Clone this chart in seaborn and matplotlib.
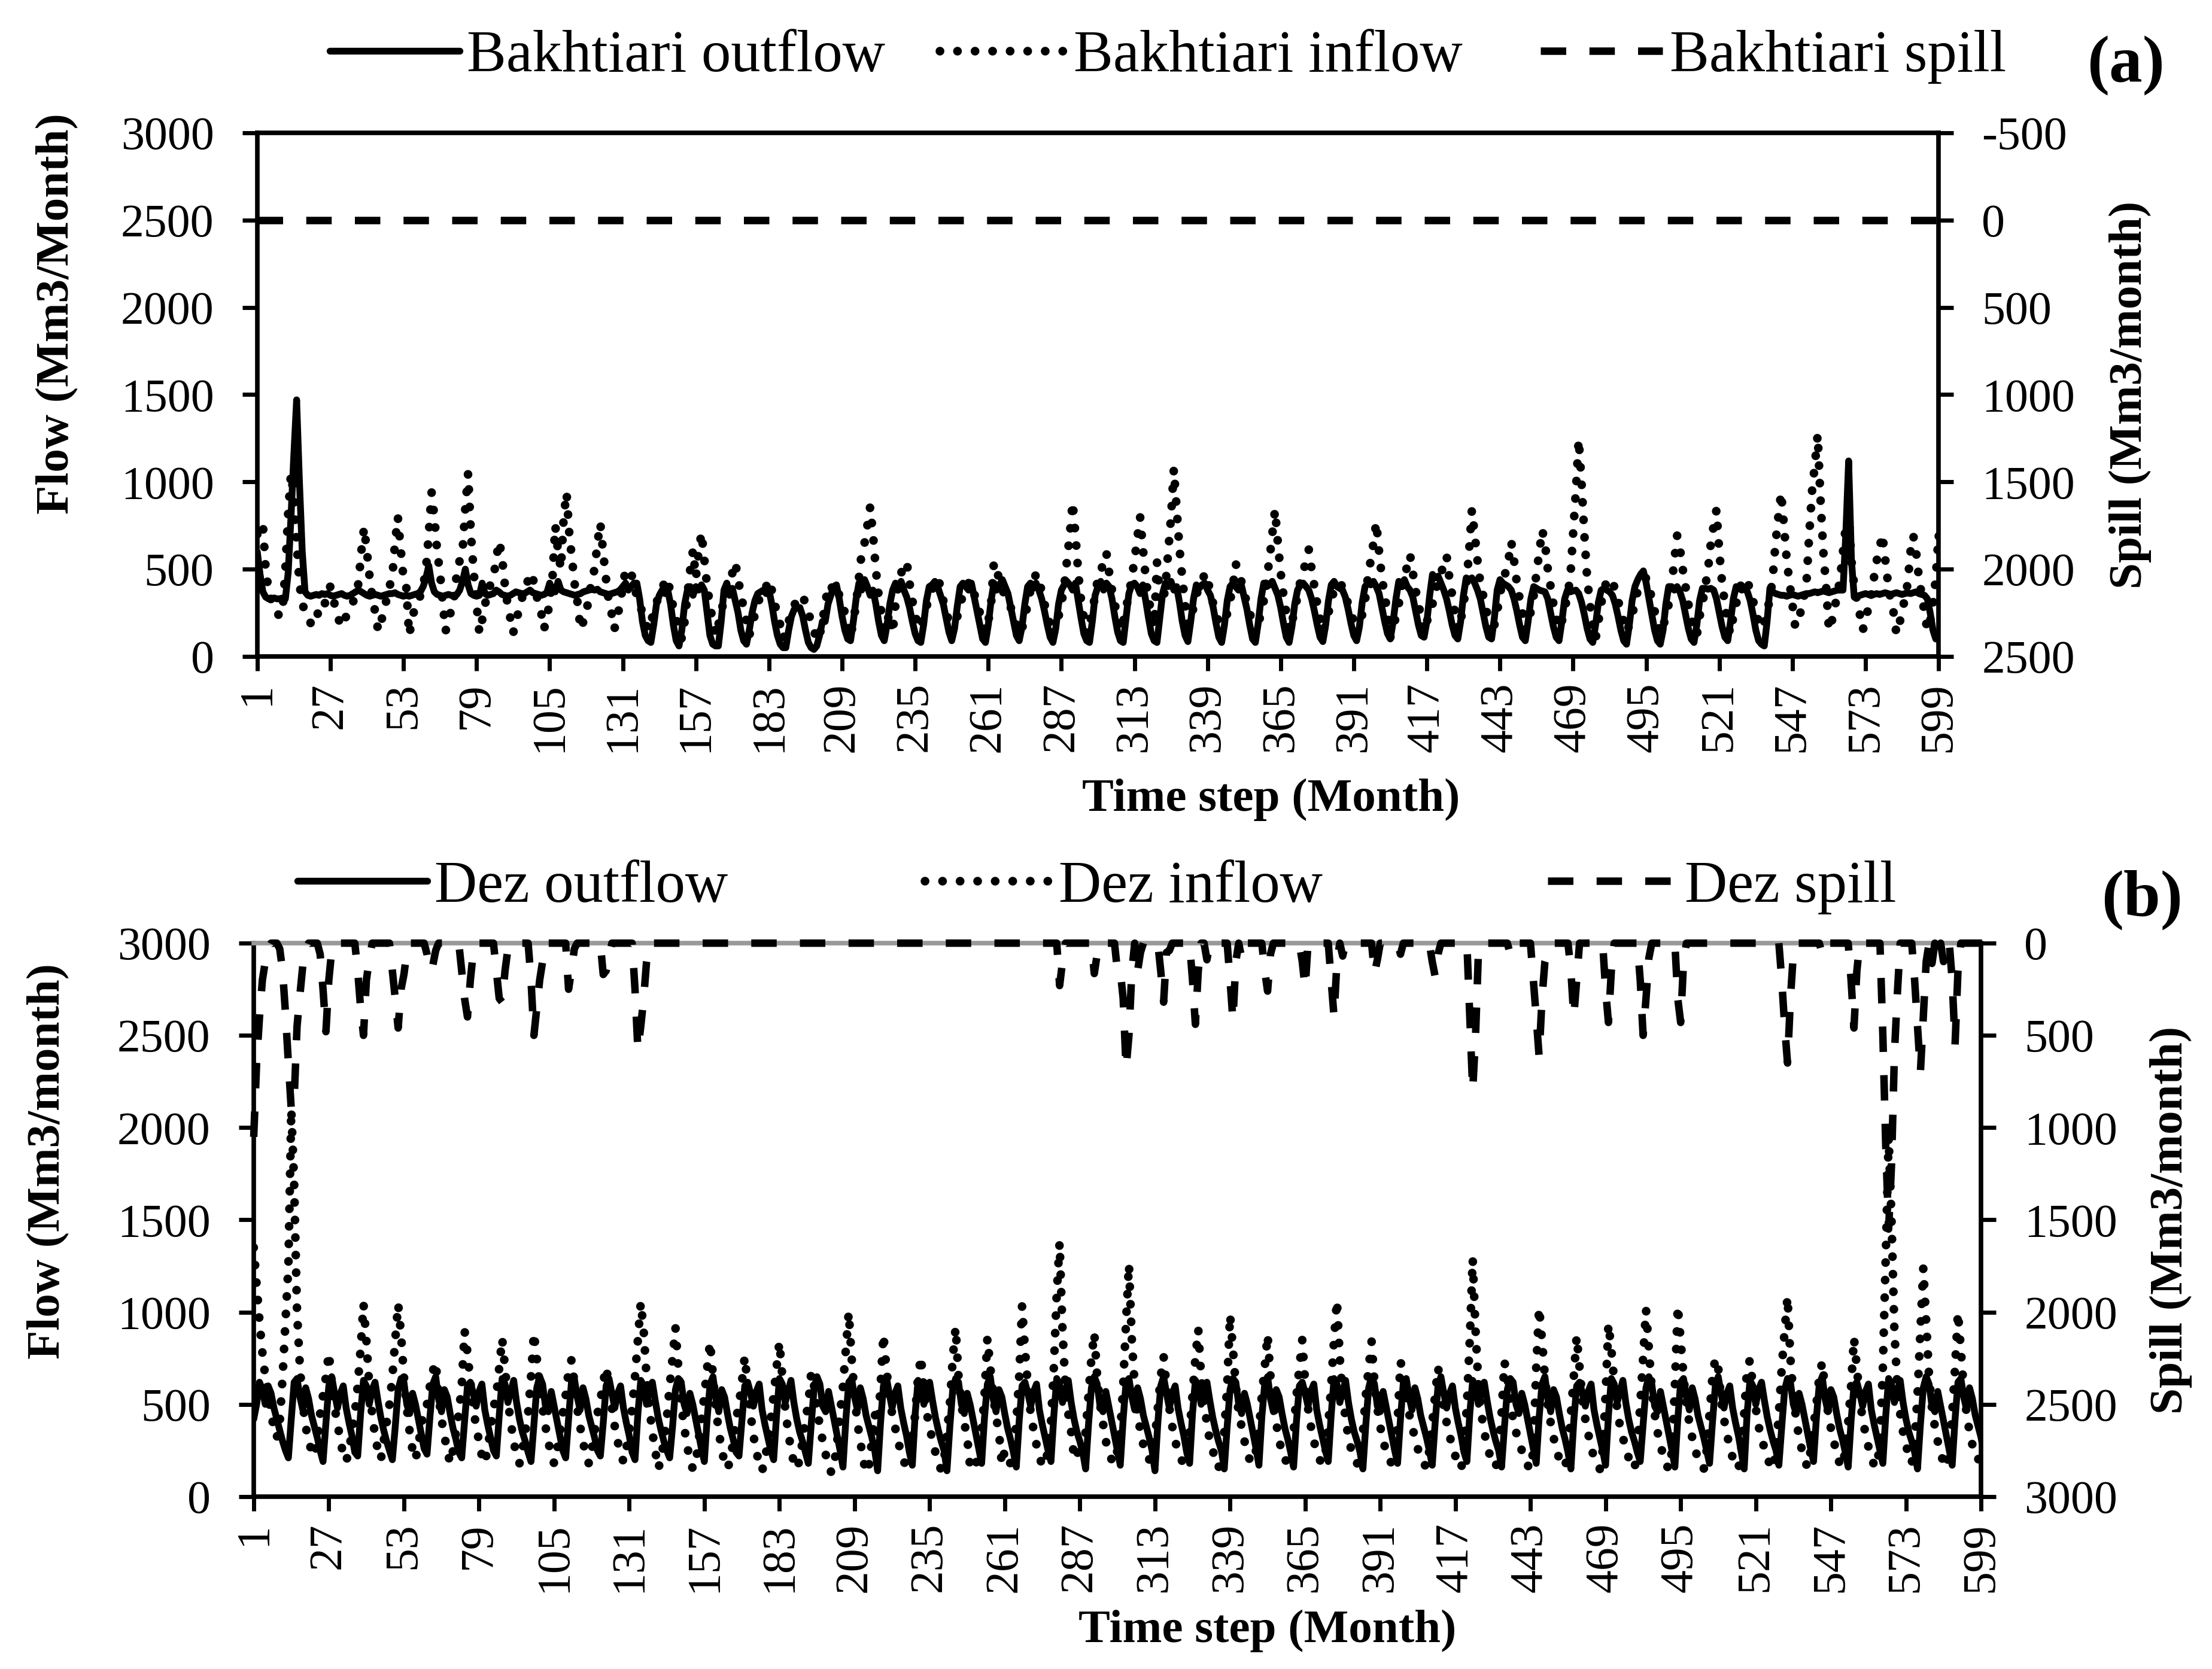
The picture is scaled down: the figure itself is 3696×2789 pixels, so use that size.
import matplotlib
matplotlib.use("Agg")
import numpy as np
import pandas as pd
import matplotlib.pyplot as plt
import seaborn as sns

sns.set_style("ticks")
plt.rcParams["font.family"] = ["Liberation Serif", "DejaVu Serif"]
plt.rcParams["axes.unicode_minus"] = False
for k in ["text.color", "axes.labelcolor", "xtick.color", "ytick.color", "axes.edgecolor"]:
    plt.rcParams[k] = "black"

# ---------------- data (Mm3/month), one row per 12 months ----------------
months = list(range(1, 601))
x_tick_values = list(range(1, 600, 26))
flow_ticks = [0, 500, 1000, 1500, 2000, 2500, 3000]
spill_ticks_a = [-500, 0, 500, 1000, 1500, 2000, 2500]
spill_ticks_b = [0, 500, 1000, 1500, 2000, 2500, 3000]

bakhtiari_outflow = [
    600, 470, 370, 340, 330, 330, 335, 330, 330, 335, 330, 480,
    800, 1150, 1470, 1000, 600, 370, 350, 345, 350, 355, 350, 360,
    355, 360, 350, 345, 350, 355, 360, 350, 345, 350, 360, 370,
    380, 370, 360, 350, 345, 350, 355, 350, 345, 350, 355, 360,
    360, 365, 355, 350, 345, 350, 345, 350, 355, 360, 370, 400,
    450, 520, 420, 370, 355, 350, 345, 350, 355, 350, 345, 355,
    380, 430, 500, 410, 360, 350, 345, 350, 420, 360, 350, 355,
    360, 380, 370, 355, 350, 345, 350, 360, 370, 365, 360, 360,
    370, 380, 365, 360, 355, 350, 355, 365, 420, 380, 370, 430,
    380, 370, 365, 360, 355, 350, 355, 360, 370, 375, 380, 385,
    380, 385, 370, 365, 360, 355, 360, 365, 370, 380, 400, 420,
    380, 400, 420, 420, 330, 200, 120, 90, 80, 180, 300, 350,
    380, 360, 380, 300, 180, 90, 60, 150, 300, 380, 400, 350,
    400, 380, 410, 380, 250, 120, 70, 60, 60, 200, 380, 420,
    350, 390, 320, 250, 150, 90, 70, 150, 250, 320, 360, 370,
    380, 360, 380, 300, 200, 120, 70, 50, 50, 150, 230, 270,
    280, 280, 230, 150, 80, 50, 40, 60, 120, 200, 200, 300,
    350, 400, 410, 330, 230, 150, 100, 90, 200, 330, 420, 380,
    440, 400, 350, 380, 300, 200, 120, 90, 180, 300, 380, 420,
    400, 430, 380, 340, 280, 200, 130, 90, 80, 180, 320, 400,
    410, 430, 400, 350, 300, 220, 140, 90, 160, 290, 400, 420,
    400, 380, 420, 340, 260, 180, 100, 80, 180, 320, 420, 380,
    410, 440, 400, 360, 280, 200, 120, 90, 170, 300, 400, 420,
    390, 420, 380, 330, 260, 180, 110, 80, 160, 300, 380, 410,
    430, 410, 380, 420, 320, 220, 130, 90, 80, 200, 350, 400,
    430, 380, 420, 400, 330, 230, 140, 90, 80, 220, 360, 410,
    420, 400, 360, 410, 320, 220, 130, 90, 80, 220, 360, 420,
    400, 430, 380, 400, 310, 200, 120, 85, 200, 330, 410, 390,
    410, 420, 380, 350, 280, 190, 110, 80, 180, 320, 400, 420,
    400, 380, 410, 340, 270, 180, 100, 80, 190, 330, 420, 400,
    410, 430, 390, 350, 280, 190, 110, 80, 170, 300, 380, 410,
    420, 400, 380, 330, 260, 180, 110, 85, 180, 320, 410, 430,
    400, 390, 380, 340, 270, 190, 120, 90, 170, 310, 400, 420,
    410, 430, 400, 360, 280, 200, 130, 100, 200, 330, 430, 420,
    440, 400, 380, 340, 260, 180, 120, 110, 200, 350, 470, 450,
    460, 420, 380, 330, 260, 180, 120, 100, 200, 350, 450, 440,
    450, 420, 380, 330, 250, 170, 110, 100, 220, 380, 440, 420,
    410, 400, 380, 330, 260, 180, 110, 90, 200, 330, 400, 390,
    380, 375, 370, 330, 250, 170, 110, 90, 200, 330, 380, 370,
    375, 380, 360, 310, 240, 160, 100, 80, 180, 310, 380, 390,
    380, 370, 350, 300, 230, 150, 90, 70, 180, 320, 400, 440,
    470, 490, 420, 330, 240, 150, 90, 70, 150, 300, 400, 400,
    380, 400, 370, 320, 240, 160, 100, 80, 180, 320, 390, 390,
    385, 390, 380, 330, 250, 170, 110, 90, 200, 330, 400, 390,
    380, 390, 370, 320, 240, 150, 90, 70, 60, 200, 390, 370,
    360, 355, 350, 350, 345, 350, 355, 350, 345, 350, 355, 360,
    360, 365, 370, 365, 370, 375, 370, 365, 370, 375, 380, 380,
    380, 700, 1120, 550, 340, 345, 350, 355, 360, 355, 350, 355,
    360, 355, 360, 365, 360, 355, 360, 365, 360, 355, 360, 365,
    360, 365, 370, 360, 355, 350, 330, 250, 150, 100, 110, 120,
]

bakhtiari_inflow = [
    700, 740, 760, 500, 380, 320, 290, 250, 230, 260, 500, 820,
    1050, 920, 650, 420, 300, 260, 230, 190, 200, 260, 230, 280,
    300, 380, 400, 330, 270, 210, 170, 200, 250, 280, 310, 350,
    420, 600, 740, 600, 450, 330, 250, 145, 200, 250, 330, 400,
    450, 650, 800, 620, 450, 400, 122, 200, 280, 300, 350, 400,
    500, 700, 940, 800, 600, 480, 300, 145, 220, 260, 330, 480,
    550, 600, 850, 1050, 700, 480, 300, 133, 210, 300, 350, 420,
    450, 560, 660, 580, 420, 300, 220, 133, 200, 260, 320, 400,
    420, 480, 450, 380, 300, 250, 155, 230, 300, 450, 750, 600,
    500, 800, 940, 700, 550, 400, 300, 155, 200, 260, 330, 450,
    500, 650, 765, 600, 450, 320, 250, 155, 220, 300, 400, 500,
    500, 480, 400, 350, 300, 250, 200, 150, 200, 250, 300, 380,
    400, 420, 450, 350, 280, 220, 150, 100, 200, 350, 500, 610,
    450, 600, 710, 560, 400, 300, 200, 120, 180, 250, 330, 400,
    420, 480, 540, 450, 350, 280, 200, 120, 180, 240, 300, 350,
    350, 400, 440, 380, 300, 250, 180, 100, 150, 200, 250, 300,
    300, 330, 350, 300, 250, 200, 150, 90, 120, 200, 300, 400,
    380, 420, 400, 350, 300, 250, 180, 110, 200, 300, 450, 600,
    650, 750, 858, 700, 500, 350, 250, 145, 200, 250, 133, 300,
    400, 480, 500, 543, 420, 320, 250, 160, 180, 220, 280, 350,
    380, 420, 450, 400, 320, 260, 200, 130, 170, 230, 300, 350,
    380, 420, 430, 360, 300, 250, 200, 140, 200, 300, 540, 500,
    430, 380, 350, 320, 280, 230, 180, 130, 160, 220, 300, 380,
    420, 475, 420, 380, 300, 240, 180, 120, 170, 230, 300, 400,
    550, 700, 885, 700, 480, 320, 220, 128, 180, 260, 350, 450,
    480, 550, 595, 480, 380, 300, 220, 150, 200, 280, 350, 450,
    550, 680, 800, 620, 450, 330, 250, 170, 540, 350, 300, 400,
    600, 800, 1075, 850, 620, 450, 300, 180, 220, 280, 350, 400,
    420, 480, 430, 380, 300, 250, 190, 130, 180, 250, 320, 400,
    532, 480, 430, 370, 300, 250, 190, 130, 180, 250, 320, 450,
    550, 700, 840, 650, 480, 350, 250, 145, 200, 260, 350, 430,
    480, 550, 612, 500, 400, 300, 220, 140, 190, 250, 320, 380,
    380, 420, 400, 350, 300, 250, 200, 130, 180, 240, 320, 450,
    550, 650, 770, 600, 450, 350, 250, 110, 160, 230, 300, 400,
    450, 520, 583, 480, 380, 300, 220, 140, 200, 250, 300, 380,
    420, 480, 520, 578, 450, 350, 250, 150, 200, 300, 400, 600,
    840, 700, 550, 420, 350, 280, 200, 120, 180, 260, 350, 450,
    480, 550, 658, 550, 420, 330, 250, 150, 200, 260, 350, 480,
    600, 726, 650, 500, 400, 300, 220, 160, 200, 270, 350, 450,
    700, 950, 1245, 1000, 700, 450, 300, 180, 100, 200, 300, 400,
    420, 450, 430, 380, 320, 260, 200, 140, 180, 240, 300, 380,
    400, 430, 450, 400, 330, 260, 200, 130, 170, 230, 300, 400,
    550, 692, 620, 500, 400, 300, 230, 150, 120, 230, 300, 400,
    500, 650, 750, 840, 600, 420, 300, 180, 130, 230, 300, 380,
    420, 450, 430, 380, 320, 250, 200, 160, 200, 260, 330, 450,
    650, 800, 940, 750, 550, 420, 300, 170, 200, 260, 330, 420,
    700, 950, 1100, 1272, 900, 600, 400, 150, 200, 280, 350, 450,
    600, 750, 820, 550, 400, 320, 240, 150, 200, 280, 350, 450,
    550, 620, 700, 560, 420, 320, 250, 130, 180, 260, 330, 420,
    600, 692, 600, 450, 350, 250, 150, 200, 300, 450, 700, 550,
]

bakhtiari_spill = [0] * 600

dez_outflow = [
    420, 500, 620, 580, 500, 600, 560, 480, 420, 360, 300, 250,
    210, 420, 620, 640, 540, 470, 590, 530, 440, 380, 320, 250,
    190, 400, 600, 650, 560, 480, 560, 600, 480, 400, 330, 240,
    220, 450, 630, 600, 500, 580, 620, 520, 430, 360, 300, 250,
    200, 380, 580, 640, 620, 500, 450, 560, 500, 420, 340, 260,
    230, 430, 610, 650, 530, 460, 580, 540, 450, 370, 310, 240,
    210, 410, 600, 620, 560, 490, 570, 610, 470, 390, 320, 250,
    220, 440, 640, 610, 510, 570, 630, 510, 420, 350, 300, 240,
    190, 390, 590, 650, 610, 490, 460, 570, 490, 410, 330, 250,
    210, 420, 620, 640, 540, 470, 590, 530, 440, 380, 320, 250,
    220, 400, 600, 640, 560, 480, 560, 600, 480, 400, 330, 240,
    200, 450, 630, 600, 500, 580, 620, 520, 430, 360, 300, 250,
    210, 380, 580, 640, 620, 500, 450, 560, 500, 420, 340, 260,
    190, 430, 610, 650, 530, 460, 580, 540, 450, 370, 310, 240,
    220, 410, 600, 620, 560, 490, 570, 610, 470, 390, 320, 250,
    200, 440, 640, 610, 510, 570, 630, 510, 420, 350, 300, 240,
    180, 390, 590, 650, 610, 490, 460, 570, 490, 410, 330, 250,
    160, 420, 620, 640, 540, 470, 590, 530, 440, 380, 320, 250,
    140, 400, 600, 650, 560, 480, 560, 600, 480, 400, 330, 240,
    170, 450, 630, 600, 500, 580, 620, 520, 430, 360, 300, 250,
    140, 380, 580, 640, 620, 500, 450, 560, 500, 420, 340, 260,
    180, 430, 610, 650, 530, 460, 580, 540, 450, 370, 310, 240,
    160, 410, 600, 620, 560, 490, 570, 610, 470, 390, 320, 250,
    190, 440, 640, 610, 510, 570, 630, 510, 420, 350, 300, 240,
    150, 390, 590, 650, 610, 490, 460, 570, 490, 410, 330, 250,
    170, 420, 620, 640, 540, 470, 590, 530, 440, 380, 320, 250,
    140, 400, 600, 650, 560, 480, 560, 600, 480, 400, 330, 240,
    180, 450, 630, 600, 500, 580, 620, 520, 430, 360, 300, 250,
    150, 380, 580, 640, 620, 500, 450, 560, 500, 420, 340, 260,
    170, 430, 610, 650, 530, 460, 580, 540, 450, 370, 310, 240,
    160, 410, 600, 620, 560, 490, 570, 610, 470, 390, 320, 250,
    190, 440, 640, 610, 510, 570, 630, 510, 420, 350, 300, 240,
    150, 390, 590, 650, 610, 490, 460, 570, 490, 410, 330, 250,
    180, 420, 620, 640, 540, 470, 590, 530, 440, 380, 320, 250,
    170, 400, 600, 650, 560, 480, 560, 600, 480, 400, 330, 240,
    190, 450, 630, 600, 500, 580, 620, 520, 430, 360, 300, 250,
    160, 380, 580, 640, 620, 500, 450, 560, 500, 420, 340, 260,
    180, 430, 610, 650, 530, 460, 580, 540, 450, 370, 310, 240,
    150, 410, 600, 620, 560, 490, 570, 610, 470, 390, 320, 250,
    170, 440, 640, 610, 510, 570, 630, 510, 420, 350, 300, 240,
    190, 390, 590, 650, 610, 490, 460, 570, 490, 410, 330, 250,
    160, 420, 620, 640, 540, 470, 590, 530, 440, 380, 320, 250,
    180, 400, 600, 650, 560, 480, 560, 600, 480, 400, 330, 240,
    150, 450, 630, 600, 500, 580, 620, 520, 430, 360, 300, 250,
    170, 380, 580, 640, 620, 500, 450, 560, 500, 420, 340, 260,
    190, 430, 610, 650, 530, 460, 580, 540, 450, 370, 310, 240,
    160, 410, 600, 620, 560, 490, 570, 610, 470, 390, 320, 250,
    180, 440, 640, 610, 510, 570, 630, 510, 420, 350, 300, 240,
    150, 390, 590, 650, 610, 490, 460, 570, 490, 410, 330, 250,
    170, 420, 620, 640, 540, 470, 590, 530, 440, 380, 320, 230,
]

dez_inflow = [
    1350, 1150, 950, 780, 650, 550, 450, 370, 320, 400, 650, 950,
    1250, 2100, 1700, 1000, 700, 500, 380, 300, 250, 220, 300, 450,
    550, 650, 780, 620, 480, 400, 300, 230, 190, 250, 350, 450,
    600, 800, 1045, 850, 600, 450, 330, 250, 200, 300, 400, 500,
    650, 850, 1045, 880, 650, 480, 350, 250, 200, 280, 380, 480,
    500, 600, 680, 730, 550, 420, 330, 250, 180, 250, 350, 450,
    600, 898, 780, 620, 480, 380, 300, 220, 180, 260, 370, 480,
    550, 700, 858, 700, 520, 400, 300, 220, 180, 250, 350, 450,
    650, 888, 750, 600, 480, 380, 300, 220, 180, 250, 350, 450,
    550, 680, 741, 620, 480, 380, 300, 220, 180, 250, 350, 450,
    520, 620, 702, 600, 480, 380, 300, 230, 190, 260, 360, 480,
    650, 850, 1054, 900, 650, 480, 350, 250, 150, 200, 300, 420,
    600, 750, 917, 700, 500, 380, 280, 200, 150, 180, 300, 420,
    550, 700, 839, 650, 480, 350, 260, 180, 150, 200, 300, 420,
    500, 620, 760, 600, 450, 330, 250, 170, 140, 200, 300, 420,
    550, 700, 839, 650, 480, 350, 260, 180, 150, 200, 300, 420,
    500, 673, 600, 480, 380, 300, 230, 160, 130, 180, 300, 450,
    600, 800, 1000, 750, 550, 400, 300, 200, 130, 170, 300, 450,
    350, 600, 880, 700, 550, 450, 380, 300, 250, 190, 170, 184,
    300, 450, 650, 760, 580, 450, 380, 300, 240, 180, 145, 200,
    350, 500, 750, 917, 650, 500, 400, 320, 164, 200, 180, 220,
    350, 550, 860, 700, 550, 430, 350, 174, 250, 200, 180, 250,
    400, 650, 1035, 800, 600, 450, 360, 280, 220, 164, 180, 250,
    400, 700, 1100, 1377, 900, 600, 450, 350, 213, 250, 200, 250,
    350, 550, 750, 888, 650, 500, 400, 300, 250, 200, 180, 250,
    350, 600, 950, 1260, 850, 600, 450, 350, 280, 223, 200, 250,
    320, 480, 650, 760, 600, 480, 380, 300, 250, 203, 180, 220,
    350, 550, 750, 907, 650, 500, 400, 300, 250, 200, 155, 220,
    350, 600, 986, 800, 600, 450, 380, 300, 250, 184, 200, 250,
    350, 550, 700, 878, 650, 500, 400, 300, 250, 194, 200, 250,
    350, 550, 700, 850, 620, 480, 380, 300, 250, 200, 180, 230,
    380, 600, 850, 1064, 750, 550, 420, 320, 250, 200, 180, 230,
    350, 550, 700, 840, 620, 480, 380, 300, 250, 200, 180, 230,
    400, 730, 680, 550, 450, 380, 320, 260, 210, 180, 160, 250,
    400, 550, 700, 600, 480, 400, 330, 270, 220, 180, 150, 250,
    500, 850, 1290, 900, 600, 450, 350, 280, 220, 180, 160, 250,
    450, 730, 650, 520, 420, 350, 300, 250, 200, 170, 150, 250,
    700, 1025, 850, 650, 500, 400, 320, 260, 200, 170, 160, 250,
    450, 650, 870, 700, 520, 420, 340, 270, 210, 170, 150, 250,
    550, 937, 800, 620, 480, 380, 320, 260, 210, 170, 150, 250,
    500, 750, 1015, 800, 580, 450, 350, 280, 220, 170, 150, 250,
    600, 1035, 850, 650, 500, 400, 320, 260, 200, 170, 150, 250,
    450, 650, 750, 700, 520, 420, 340, 270, 210, 170, 150, 250,
    450, 700, 740, 600, 480, 380, 320, 260, 210, 170, 150, 250,
    450, 700, 900, 1084, 750, 550, 420, 320, 250, 190, 160, 250,
    380, 500, 650, 730, 580, 460, 370, 300, 240, 180, 160, 250,
    400, 600, 860, 700, 530, 420, 340, 270, 210, 170, 160, 300,
    700, 1300, 1950, 1500, 900, 600, 450, 350, 280, 220, 180, 300,
    550, 900, 1240, 950, 650, 480, 380, 300, 240, 180, 160, 250,
    450, 700, 1000, 800, 580, 450, 350, 280, 220, 200, 250, 300,
]

dez_spill = [
    1050, 650, 400, 200, 100, 30, 0, 0, 0, 30, 150, 380,
    650, 900, 850, 450, 280, 120, 40, 0, 0, 0, 0, 60,
    250, 480, 200, 40, 0, 0, 0, 0, 0, 0, 0, 0,
    150, 350, 500, 200, 90, 0, 0, 0, 0, 0, 0, 0,
    150, 300, 460, 250, 170, 50, 0, 0, 0, 0, 0, 0,
    60, 150, 120, 40, 0, 0, 0, 0, 0, 0, 0, 0,
    150, 300, 400, 200, 50, 0, 0, 0, 0, 0, 0, 0,
    150, 300, 320, 150, 30, 0, 0, 0, 0, 0, 0, 0,
    200, 500, 350, 200, 100, 0, 0, 0, 0, 0, 0, 0,
    0, 250, 150, 30, 0, 0, 0, 0, 0, 0, 0, 0,
    0, 170, 150, 80, 0, 0, 0, 0, 0, 0, 0, 0,
    250, 580, 450, 300, 100, 0, 0, 0, 0, 0, 0, 0,
    0, 0, 0, 0, 0, 0, 0, 0, 0, 0, 0, 0,
    0, 0, 0, 0, 0, 0, 0, 0, 0, 0, 0, 0,
    0, 0, 0, 0, 0, 0, 0, 0, 0, 0, 0, 0,
    0, 0, 0, 0, 0, 0, 0, 0, 0, 0, 0, 0,
    0, 0, 0, 0, 0, 0, 0, 0, 0, 0, 0, 0,
    0, 0, 0, 0, 0, 0, 0, 0, 0, 0, 0, 0,
    0, 0, 0, 0, 0, 0, 0, 0, 0, 0, 0, 0,
    0, 0, 0, 0, 0, 0, 0, 0, 0, 0, 0, 0,
    0, 0, 0, 0, 0, 0, 0, 0, 0, 0, 0, 0,
    0, 0, 0, 0, 0, 0, 0, 0, 0, 0, 0, 0,
    0, 0, 0, 0, 0, 0, 0, 0, 0, 0, 0, 0,
    0, 0, 0, 230, 100, 0, 0, 0, 0, 0, 0, 0,
    0, 0, 0, 165, 60, 0, 0, 0, 0, 0, 0, 150,
    150, 300, 680, 500, 150, 0, 150, 50, 0, 0, 0, 0,
    0, 0, 150, 320, 50, 40, 0, 0, 0, 0, 0, 0,
    0, 200, 440, 150, 0, 0, 90, 0, 0, 0, 0, 0,
    0, 0, 200, 420, 100, 0, 80, 0, 0, 0, 0, 0,
    0, 0, 150, 260, 60, 0, 0, 0, 0, 0, 0, 0,
    0, 0, 0, 100, 245, 0, 0, 0, 0, 0, 0, 0,
    0, 200, 400, 100, 0, 70, 0, 0, 0, 0, 0, 0,
    0, 0, 0, 0, 165, 90, 0, 0, 0, 0, 0, 0,
    0, 60, 0, 0, 0, 0, 0, 0, 0, 0, 0, 0,
    100, 180, 60, 0, 0, 0, 0, 0, 0, 0, 0, 0,
    0, 400, 800, 500, 40, 0, 0, 0, 0, 0, 0, 0,
    0, 0, 0, 60, 0, 0, 0, 0, 0, 0, 0, 200,
    400, 615, 300, 100, 50, 0, 0, 0, 0, 0, 0, 0,
    150, 400, 200, 0, 0, 0, 0, 0, 0, 0, 0, 0,
    250, 430, 150, 0, 0, 0, 0, 0, 0, 0, 0, 0,
    200, 500, 300, 80, 0, 0, 0, 0, 0, 0, 0, 0,
    0, 300, 430, 100, 0, 0, 0, 0, 0, 0, 0, 0,
    0, 0, 0, 0, 0, 0, 0, 0, 0, 0, 0, 0,
    0, 0, 0, 0, 0, 0, 0, 0, 0, 0, 0, 0,
    0, 200, 450, 650, 300, 60, 0, 0, 0, 0, 0, 0,
    0, 0, 0, 60, 0, 0, 0, 0, 0, 0, 0, 0,
    0, 200, 460, 150, 0, 0, 0, 0, 0, 0, 0, 0,
    500, 1100, 1550, 1200, 600, 280, 0, 0, 0, 0, 0, 200,
    450, 700, 400, 100, 0, 110, 0, 80, 0, 100, 0, 0,
    200, 550, 150, 0, 0, 0, 0, 0, 0, 0, 0, 0,
]

for name, arr in [("bo", bakhtiari_outflow), ("bi", bakhtiari_inflow), ("do", dez_outflow),
                  ("di", dez_inflow), ("ds", dez_spill)]:
    assert len(arr) == 600, (name, len(arr))

# ---------------- styles ----------------
LW_SOLID = 8.2
LW_DOT = 10.5
LW_DASH = 9.0
DOT_STYLE = (0, (0.01, 2.0))
DASH_STYLE = (0, (3.4, 3.1))
TICK_FS = 56
LABEL_FS = 57
LEG_FS = 71

fig = plt.figure(figsize=(36.96, 27.89), dpi=100)
fig.patch.set_facecolor("white")
ax_a = fig.add_axes([0.1163, 0.6067, 0.8764 - 0.1163, 0.9204 - 0.6067])
ax_b = fig.add_axes([0.1147, 0.1033, 0.8956 - 0.1147, 0.4349 - 0.1033])


def draw_panel(ax, outflow, inflow, spill, spill_lim, spill_ticks, top_color,
               flow_label, flow_label_y, spill_label_x, xlabel_pos):
    df = pd.DataFrame({"month": months, "outflow": outflow, "inflow": inflow, "spill": spill})
    sns.lineplot(data=df, x="month", y="outflow", ax=ax, color="black", linewidth=LW_SOLID,
                 legend=False, errorbar=None)
    h_out = ax.lines[-1]
    h_out.set_solid_joinstyle("round")
    sns.lineplot(data=df, x="month", y="inflow", ax=ax, color="black", linewidth=LW_DOT,
                 linestyle=DOT_STYLE, dash_capstyle="round", legend=False, errorbar=None)
    h_in = ax.lines[-1]
    ax2 = ax.twinx()
    sns.lineplot(data=df, x="month", y="spill", ax=ax2, color="black", linewidth=LW_DASH,
                 linestyle=DASH_STYLE, dash_capstyle="butt", legend=False, errorbar=None,
                 clip_on=False)
    h_sp = ax2.lines[-1]

    ax.set_xlim(1, 599)
    ax.set_ylim(0, 3000)
    ax.set_yticks(flow_ticks)
    ax.set_xticks(x_tick_values)
    ax.set_xticklabels([str(v) for v in x_tick_values])
    ax2.set_ylim(*spill_lim)
    ax2.set_yticks(spill_ticks)

    ax.tick_params(axis="y", direction="out", length=18, width=5, pad=34, labelsize=TICK_FS,
                   left=True)
    ax.tick_params(axis="x", direction="out", length=17, width=5, pad=14, labelsize=TICK_FS,
                   labelrotation=90, bottom=True)
    ax2.tick_params(axis="y", direction="out", length=18, width=5, pad=34, labelsize=TICK_FS,
                    right=True)

    for s in ["left", "bottom", "top"]:
        ax.spines[s].set_visible(True)
        ax.spines[s].set_linewidth(5.5)
        ax.spines[s].set_color("black")
    ax.spines["top"].set_color(top_color)
    ax.spines["right"].set_visible(False)
    for s in ["left", "bottom", "top"]:
        ax2.spines[s].set_visible(False)
    ax2.spines["right"].set_visible(True)
    ax2.spines["right"].set_linewidth(5.5)
    ax2.spines["right"].set_color("black")

    ax.set_ylabel(flow_label, fontsize=LABEL_FS, fontweight="bold", va="center")
    ax.yaxis.set_label_coords(-0.119, flow_label_y)
    ax2.set_ylabel("Spill (Mm3/month)", fontsize=LABEL_FS, fontweight="bold", va="center",
                   rotation=90)
    ax2.yaxis.set_label_coords(spill_label_x, 0.50)
    ax.set_xlabel("Time step (Month)", fontsize=LABEL_FS, fontweight="bold", va="center")
    ax.xaxis.set_label_coords(*xlabel_pos)
    ax.set_facecolor("white")
    return h_out, h_in, h_sp


ha_out, ha_in, ha_sp = draw_panel(ax_a, bakhtiari_outflow, bakhtiari_inflow, bakhtiari_spill,
                                  (2500, -500), spill_ticks_a, "black",
                                  "Flow (Mm3/Month)", 0.655, 1.114, (0.603, -0.274))
hb_out, hb_in, hb_sp = draw_panel(ax_b, dez_outflow, dez_inflow, dez_spill,
                                  (3000, 0), spill_ticks_b, "#999999",
                                  "Flow (Mm3/month)", 0.606, 1.110, (0.587, -0.243))


def add_entry(handle, text, x, y, hl):
    fig.legend(handles=[handle], labels=[text], loc="center left", bbox_to_anchor=(x, y),
               bbox_transform=fig.transFigure, frameon=False, fontsize=LEG_FS,
               handlelength=hl, handletextpad=0.12, borderpad=0, borderaxespad=0)


add_entry(ha_out, "Bakhtiari outflow", 0.1491, 0.9659, 2.2)
add_entry(ha_in, "Bakhtiari inflow", 0.4248, 0.9659, 2.15)
add_entry(ha_sp, "Bakhtiari spill", 0.6964, 0.9659, 2.07)
add_entry(hb_out, "Dez outflow", 0.1345, 0.4683, 2.2)
add_entry(hb_in, "Dez inflow", 0.4180, 0.4683, 2.15)
add_entry(hb_sp, "Dez spill", 0.6997, 0.4683, 2.2)

fig.text(0.9435, 0.9606, "(a)", fontsize=80, fontweight="bold", ha="left", va="center")
fig.text(0.9500, 0.4607, "(b)", fontsize=80, fontweight="bold", ha="left", va="center")

fig.savefig("out.png", dpi=100, facecolor="white")
